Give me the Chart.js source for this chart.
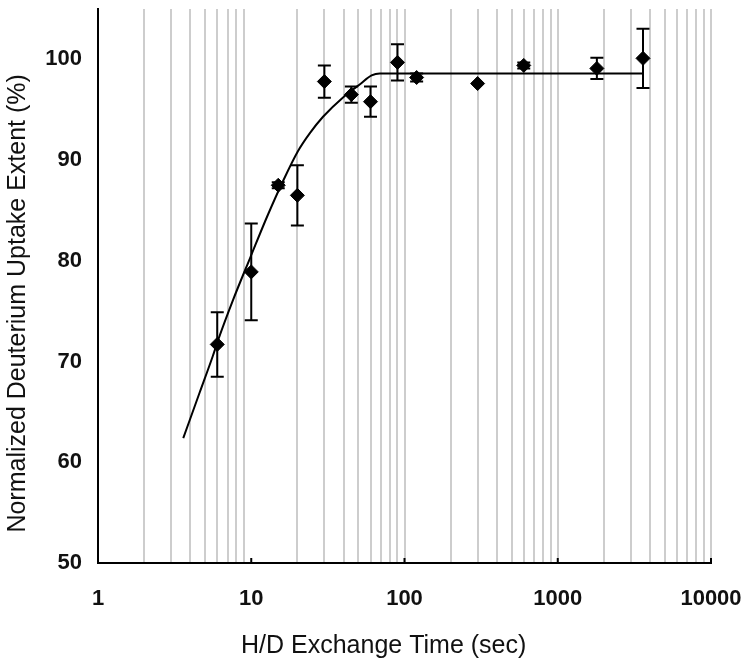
<!DOCTYPE html>
<html>
<head>
<meta charset="utf-8">
<script src="https://cdn.jsdelivr.net/npm/chart.js@4"></script>
<style>body{margin:0;background:#fff}</style>
</head>
<body>
<canvas id="chart" width="749" height="666"></canvas>
<script>
// measured points (sec, % uptake, +/- error)
const times = [6, 10, 15, 20, 30, 45, 60, 90, 120, 300, 600, 1800, 3600];
const uptake = [71.7, 78.9, 87.5, 86.5, 97.8, 96.5, 95.8, 99.7, 98.2, 97.6, 99.4, 99.1, 100.1];
const uptakeErr = [3.2, 4.8, 0.3, 3.0, 1.6, 0.8, 1.5, 1.8, 0.4, 0, 0.3, 1.05, 2.95];

// fitted curve
const fitTimes = [3.6, 4.6, 5.6, 6.1, 7.6, 9.9, 12.7, 16.1, 20.2, 24.2, 29.4, 40.2, 51, 61, 69, 3600];
const fitUptake = [62.4, 66.9, 70.5, 72.2, 76.1, 80.4, 84.4, 87.9, 90.9, 92.7, 94.3, 96.3, 97.5, 98.4, 98.6, 98.6];

const xTickValues = [1, 2, 3, 4, 5, 6, 7, 8, 9,
    10, 20, 30, 40, 50, 60, 70, 80, 90,
    100, 200, 300, 400, 500, 600, 700, 800, 900,
    1000, 2000, 3000, 4000, 5000, 6000, 7000, 8000, 9000, 10000];
const xLabelValues = [1, 10, 100, 1000, 10000];
const yTickValues = [50, 60, 70, 80, 90, 100];

const fontFamily = "'Liberation Sans', Arial, sans-serif";

// error bars + inner tick marks, drawn from the chart's own scales
const errorBarPlugin = {
    id: 'errorBars',
    afterDatasetsDraw(chart) {
        const ctx = chart.ctx;
        const xs = chart.scales.x;
        const ys = chart.scales.y;
        ctx.save();
        ctx.strokeStyle = '#000';
        ctx.lineWidth = 2;
        times.forEach((t, i) => {
            const e = uptakeErr[i];
            if (!e) return;
            const px = xs.getPixelForValue(t);
            const top = ys.getPixelForValue(uptake[i] + e);
            const bot = ys.getPixelForValue(uptake[i] - e);
            ctx.beginPath();
            ctx.moveTo(px, top); ctx.lineTo(px, bot);
            ctx.moveTo(px - 6.5, top); ctx.lineTo(px + 6.5, top);
            ctx.moveTo(px - 6.5, bot); ctx.lineTo(px + 6.5, bot);
            ctx.stroke();
        });
        // small inward ticks at decades
        const base = chart.chartArea.bottom;
        xLabelValues.slice(1).forEach(v => {
            const px = xs.getPixelForValue(v);
            ctx.beginPath();
            ctx.moveTo(px, base); ctx.lineTo(px, base - 5);
            ctx.stroke();
        });
        ctx.restore();
    }
};

new Chart(document.getElementById('chart'), {
    type: 'scatter',
    data: {
        datasets: [
            {
                label: 'Measured',
                data: times.map((t, i) => ({x: t, y: uptake[i]})),
                pointStyle: 'rectRot',
                pointRadius: 7,
                pointHoverRadius: 7,
                backgroundColor: '#000',
                borderColor: '#000',
                borderWidth: 1
            },
            {
                label: 'Fit',
                type: 'line',
                data: fitTimes.map((t, i) => ({x: t, y: fitUptake[i]})),
                borderColor: '#000',
                borderWidth: 2,
                pointRadius: 0,
                fill: false,
                cubicInterpolationMode: 'monotone'
            }
        ]
    },
    options: {
        responsive: false,
        animation: false,
        layout: {padding: {top: 9, right: 38, left: 0, bottom: 0}},
        plugins: {
            legend: {display: false},
            tooltip: {enabled: false}
        },
        scales: {
            x: {
                type: 'logarithmic',
                min: 1,
                max: 10000,
                afterBuildTicks: (scale) => {
                    scale.ticks = xTickValues.map(v => ({value: v}));
                },
                afterFit: (scale) => {
                    scale.height = 103;
                    scale.paddingLeft = 0;
                    scale.paddingRight = 0;
                },
                ticks: {
                    autoSkip: false,
                    maxRotation: 0,
                    padding: 23,
                    color: '#111',
                    font: {family: fontFamily, size: 22, weight: 'bold'},
                    callback: (v) => xLabelValues.includes(v) ? String(v) : ''
                },
                grid: {
                    drawTicks: false,
                    lineWidth: 2,
                    color: (c) => (c.tick && (c.tick.value === 1 || c.tick.value === 10)) ? 'rgba(0,0,0,0)' : '#cdcdcd'
                },
                border: {display: true, color: '#000', width: 2},
                title: {
                    display: true,
                    // trailing spaces nudge the centred title left, as in the original
                    text: 'H/D Exchange Time (sec)      ',
                    color: '#111',
                    padding: {top: 0, bottom: 5},
                    font: {family: fontFamily, size: 25}
                }
            },
            y: {
                type: 'linear',
                min: 50,
                max: 105,
                afterBuildTicks: (scale) => {
                    scale.ticks = yTickValues.map(v => ({value: v}));
                },
                afterFit: (scale) => {
                    scale.width = 98;
                    scale.paddingTop = 0;
                    scale.paddingBottom = 0;
                },
                ticks: {
                    padding: 16,
                    color: '#111',
                    font: {family: fontFamily, size: 22, weight: 'bold'}
                },
                grid: {display: false, drawTicks: false},
                border: {display: true, color: '#000', width: 2},
                title: {
                    display: true,
                    text: 'Normalized Deuterium Uptake Extent (%)     ',
                    color: '#111',
                    padding: {top: 3, bottom: 0},
                    font: {family: fontFamily, size: 25}
                }
            }
        }
    },
    plugins: [errorBarPlugin]
});
</script>
</body>
</html>
